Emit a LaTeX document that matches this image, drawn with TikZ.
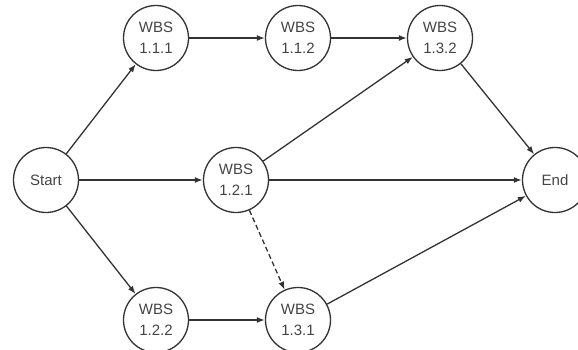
\documentclass[tikz,border=0pt]{standalone}
\usepackage{fontspec}
\setmainfont{Liberation Sans}
\usetikzlibrary{arrows.meta}
\definecolor{ln}{HTML}{333333}
\definecolor{tx}{HTML}{444444}
\begin{document}
\begin{tikzpicture}[x=1pt,y=1pt,
  act/.style={circle,draw=ln,line width=1.3pt,minimum size=65pt,inner sep=0pt,align=center,
    font=\fontsize{15}{20.5}\selectfont,text=tx},
  link/.style={draw=ln,line width=1.3pt,-{Latex[length=8pt,width=6pt]}},
  dlink/.style={link,dash pattern=on 5pt off 3pt}]
\useasboundingbox (0,0) rectangle (578,349);
\node[act] (s) at (46,169) {Start};
\node[act] (a) at (156,311) {WBS\\1.1.1};
\node[act] (b) at (298,311) {WBS\\1.1.2};
\node[act] (c) at (440,311) {WBS\\1.3.2};
\node[act] (m) at (236,169) {WBS\\1.2.1};
\node[act] (e) at (555,169) {End};
\node[act] (d) at (156,29) {WBS\\1.2.2};
\node[act] (f) at (298,29) {WBS\\1.3.1};
\draw[link] (s) -- (a);
\draw[link] (a) -- (b);
\draw[link] (b) -- (c);
\draw[link] (m) -- (c);
\draw[link] (c) -- (e);
\draw[link] (s) -- (m);
\draw[link] (m) -- (e);
\draw[dlink] (m) -- (f);
\draw[link] (s) -- (d);
\draw[link] (d) -- (f);
\draw[link] (f) -- (e);
\end{tikzpicture}
\end{document}
